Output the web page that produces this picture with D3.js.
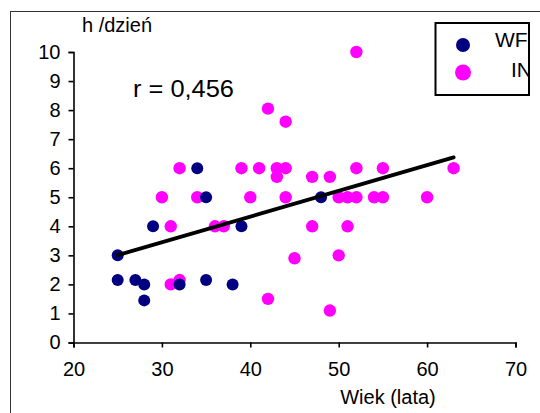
<!DOCTYPE html>
<html>
<head>
<meta charset="utf-8">
<script src="https://cdn.jsdelivr.net/npm/d3@7"></script>
<style>
  body { margin: 0; background: #fff; }
  svg text { font-family: "Liberation Sans", Arial, sans-serif; fill: #000; }
</style>
</head>
<body>
<svg id="chart" width="540" height="413"></svg>
<script>
// series: age (years) and hours per day
const wfAge   = [25, 25, 27, 28, 28, 32, 35, 38, 34, 35, 29, 39, 48];
const wfHours = [3, 2.15, 2.15, 2, 1.45, 2, 2.15, 2, 6, 5, 4, 4, 5];

const inAge   = [31, 32, 32, 39, 41, 30, 34, 40, 31, 36, 37, 42, 44, 43, 44, 43, 47, 49,
                 52, 55, 63, 44, 50, 51, 52, 54, 55, 60, 52, 47, 51, 45, 50, 42, 49];
const inHours = [2, 2.15, 6, 6, 6, 5, 5, 5, 4, 4, 4, 8.05, 7.6, 6, 6, 5.7, 5.7, 5.7,
                 6, 6, 6, 5, 5, 5, 5, 5, 5, 5, 10, 4, 4, 2.9, 3, 1.5, 1.1];

const xTicks = [20, 30, 40, 50, 60, 70];
const yTicks = [0, 1, 2, 3, 4, 5, 6, 7, 8, 9, 10];
const legendLabels = ["WF", "IN"];
const rLabel = "r = 0,456";

const svg = d3.select("#chart");

// outer frame (runs past the picture edge on the right and bottom)
svg.append("rect")
    .attr("x", 10.5).attr("y", 11.5)
    .attr("width", 560).attr("height", 430)
    .attr("fill", "none").attr("stroke", "#333").attr("stroke-width", 1);

let x = d3.scaleLinear().domain([20, 70]).range([73.5, 515.5]);
let y = d3.scaleLinear().domain([0, 10]).range([342.5, 52]);

// y axis
let yAxis = svg.append("g")
    .attr("transform", "translate(" + x.range()[0] + ",0)")
    .call(d3.axisLeft(y).tickValues(yTicks).tickSize(5).tickSizeOuter(5).tickPadding(8));

// x axis
let xAxis = svg.append("g")
    .attr("transform", "translate(0," + y.range()[0] + ")")
    .call(d3.axisBottom(x).tickValues(xTicks).tickSize(5).tickSizeOuter(5).tickPadding(14));

[yAxis, xAxis].forEach(function(a) {
    a.selectAll("path, line").attr("stroke", "#000").attr("stroke-width", 1.6);
    a.selectAll("text").attr("font-size", 20).attr("fill", "#000")
        .style("font-family", "'Liberation Sans', Arial, sans-serif");
});

// axis titles
svg.append("text").attr("x", 82).attr("y", 32).attr("font-size", 20).text("h /dzień");
svg.append("text").attr("x", 388).attr("y", 404).attr("text-anchor", "middle")
    .attr("font-size", 20).text("Wiek (lata)");

// points: IN underneath, WF on top
let inData = inAge.map((a, i) => ({age: a, h: inHours[i]}));
let wfData = wfAge.map((a, i) => ({age: a, h: wfHours[i]}));

svg.append("g").selectAll("circle").data(inData).enter().append("circle")
    .attr("cx", d => x(d.age)).attr("cy", d => y(d.h)).attr("r", 6.2)
    .attr("fill", "#ff00ff");

svg.append("g").selectAll("circle").data(wfData).enter().append("circle")
    .attr("cx", d => x(d.age)).attr("cy", d => y(d.h)).attr("r", 6)
    .attr("fill", "#000080");

// least squares trend line over all points
let all = inData.concat(wfData);
let mx = d3.mean(all, d => d.age), my = d3.mean(all, d => d.h);
let sxy = d3.sum(all, d => (d.age - mx) * (d.h - my));
let sxx = d3.sum(all, d => (d.age - mx) * (d.age - mx));
let slope = sxy / sxx, icept = my - slope * mx;
let ext = d3.extent(all, d => d.age);

svg.append("line")
    .attr("x1", x(ext[0])).attr("y1", y(icept + slope * ext[0]))
    .attr("x2", x(ext[1])).attr("y2", y(icept + slope * ext[1]))
    .attr("stroke", "#000").attr("stroke-width", 3.8).attr("stroke-linecap", "round");

// correlation label
svg.append("text").attr("x", 133).attr("y", 97).attr("font-size", 23)
    .attr("textLength", 101).attr("lengthAdjust", "spacingAndGlyphs").text(rLabel);

// legend
let legend = svg.append("g");
svg.append("clipPath").attr("id", "legClip")
    .append("rect").attr("x", 435).attr("y", 22).attr("width", 94).attr("height", 73);
legend.append("rect")
    .attr("x", 435.5).attr("y", 23).attr("width", 93.5).attr("height", 72)
    .attr("fill", "#fff").attr("stroke", "#000").attr("stroke-width", 2);
let legColors = ["#000080", "#ff00ff"];
let legR = [7, 8];
let legTextX = [495, 511];
legendLabels.forEach(function(lab, i) {
    let cy = 45 + i * 27.5;
    legend.append("circle").attr("cx", 463).attr("cy", cy).attr("r", legR[i])
        .attr("fill", legColors[i]);
    legend.append("text").attr("x", legTextX[i]).attr("y", cy + 2 + i * 2)
        .attr("font-size", 21).attr("clip-path", "url(#legClip)").text(lab);
});
</script>
</body>
</html>
